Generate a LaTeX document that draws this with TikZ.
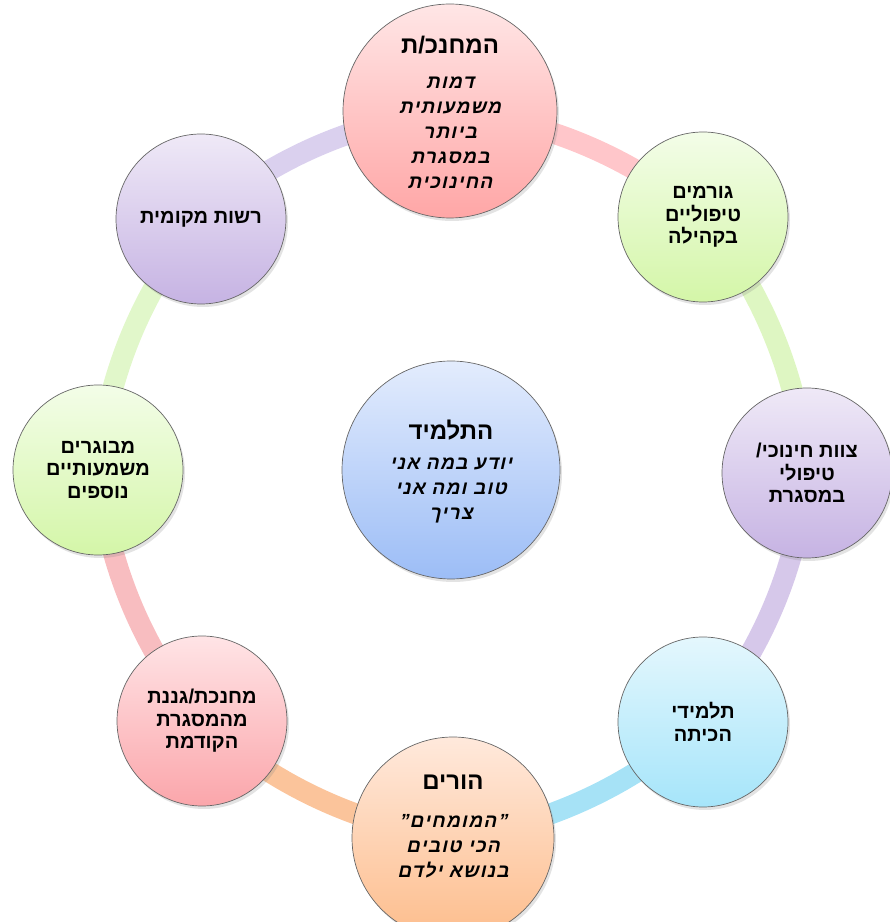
\documentclass[tikz,border=0pt]{standalone}
\usepackage{fontspec}
\setmainfont{Liberation Sans}
\newfontfamily\hebfont[Script=Hebrew]{Liberation Sans}
\newfontfamily\hebhand[Script=Hebrew,FakeSlant=0.22,LetterSpace=7]{Liberation Sans}
\TeXXeTstate=1
\newcommand\heb[1]{\beginR#1\endR}
\usetikzlibrary{shadows,backgrounds}

\definecolor{rPink}{HTML}{FFC6CA}
\definecolor{rGreen}{HTML}{DEF6C2}
\definecolor{rLav}{HTML}{D6C8EA}
\definecolor{rBlue}{HTML}{A6E2F6}
\definecolor{rPeach}{HTML}{FBC49B}
\definecolor{rPinkB}{HTML}{F8BDC0}
\definecolor{rGreenB}{HTML}{E1F7CA}
\definecolor{rLavB}{HTML}{DAD0EE}

\tikzset{
  bubble/.style={circle, draw=black!60, line width=0.7pt, inner sep=0pt,
    align=center, text=black,
    font=\hebfont\bfseries\fontsize{20}{22.5}\selectfont,
    drop shadow={opacity=0.22, shadow xshift=2pt, shadow yshift=-3pt}},
  small/.style={bubble, minimum size=170pt},
  big/.style={bubble, minimum size=214pt},
  title/.style={align=center, inner sep=0pt, font=\hebfont\bfseries\fontsize{24}{26}\selectfont},
  hand/.style={align=center, inner sep=0pt, font=\hebhand\bfseries\fontsize{19}{25}\selectfont},
  ringseg/.style={line width=21pt, bend left=17, looseness=0.885,
    preaction={draw=black, draw opacity=0.10, transform canvas={shift={(2pt,-3pt)}}}},
  gpink/.style={top color={rgb,255:red,255;green,230;blue,230}, bottom color={rgb,255:red,255;green,166;blue,166}},
  ggreen/.style={top color={rgb,255:red,243;green,253;blue,232}, bottom color={rgb,255:red,212;green,246;blue,168}},
  glav/.style={top color={rgb,255:red,239;green,233;blue,247}, bottom color={rgb,255:red,198;green,179;blue,227}},
  gcyan/.style={top color={rgb,255:red,228;green,247;blue,253}, bottom color={rgb,255:red,166;green,229;blue,250}},
  gpeach/.style={top color={rgb,255:red,255;green,233;blue,220}, bottom color={rgb,255:red,253;green,189;blue,140}},
  gpinkb/.style={top color={rgb,255:red,255;green,228;blue,230}, bottom color={rgb,255:red,251;green,166;blue,171}},
  gblue/.style={top color={rgb,255:red,227;green,236;blue,253}, bottom color={rgb,255:red,156;green,189;blue,246}},
}

\begin{document}
\begin{tikzpicture}[x=1pt,y=1pt]
\useasboundingbox (0,0) rectangle (890,922);

% circles
\node[big, gpink]   (top) at (450,811) {};
\node[small, ggreen] (tr) at (703,705) {\heb{גורמים}\\\heb{טיפוליים}\\\heb{בקהילה}};
\node[small, glav]  (r)  at (807,449) {\heb{צוות חינוכי/}\\\heb{טיפולי}\\\heb{במסגרת}};
\node[small, gcyan] (br) at (703,200) {\heb{תלמידי}\\\heb{הכיתה}};
\node[bubble, minimum size=202pt, gpeach] (bot) at (453,84) {};
\node[small, gpinkb] (bl) at (202,201) {\heb{מחנכת/גננת}\\\heb{מהמסגרת}\\\heb{הקודמת}};
\node[small, ggreen] (l)  at (98,452) {\heb{מבוגרים}\\\heb{משמעותיים}\\\heb{נוספים}};
\node[small, glav]  (tl) at (201,703) {\heb{רשות מקומית}};
\node[bubble, minimum size=218pt, gblue] (c) at (451,452) {};

% texts of the big circles
\node[title] (topT) at (450,877) {\heb{המחנכ/ת}};
\node[hand]  (topH) at (450,789) {\heb{דמות}\\\heb{משמעותית}\\\heb{ביותר}\\\heb{במסגרת}\\\heb{החינוכית}};
\node[title] (cT) at (451,492) {\heb{התלמיד}};
\node[hand]  (cH) at (451,431) {\heb{יודע במה אני}\\\heb{טוב ומה אני}\\\heb{צריך}};
\node[title] (botT) at (453,140) {\heb{הורים}};
\node[hand]  (botH) at (453,76) {\heb{”המומחים”}\\\heb{הכי טובים}\\\heb{בנושא ילדם}};

% ring
\begin{scope}[on background layer]
  \draw[ringseg, rPink]   (top.center) to (tr.center);
  \draw[ringseg, rGreen]  (tr.center)  to (r.center);
  \draw[ringseg, rLav]    (r.center)   to (br.center);
  \draw[ringseg, rBlue]   (br.center)  to (bot.center);
  \draw[ringseg, rPeach]  (bot.center) to (bl.center);
  \draw[ringseg, rPinkB]  (bl.center)  to (l.center);
  \draw[ringseg, rGreenB] (l.center)   to (tl.center);
  \draw[ringseg, rLavB]   (tl.center)  to (top.center);
\end{scope}
\end{tikzpicture}
\end{document}
